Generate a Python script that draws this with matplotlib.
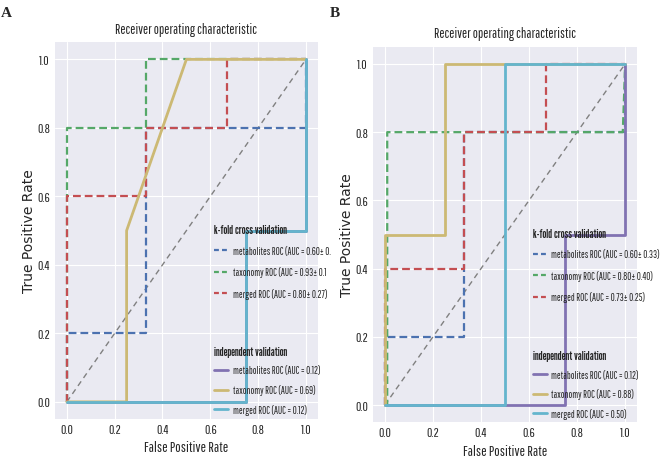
import matplotlib
matplotlib.use('Agg')
from matplotlib import pyplot as plt
from matplotlib import font_manager
from matplotlib.lines import Line2D
from matplotlib.transforms import Bbox, TransformedBbox

plt.style.use('seaborn-v0_8-darkgrid')

installed = {f.name for f in font_manager.fontManager.ttflist}


def pick(names):
    return [n for n in names if n in installed] + ['DejaVu Sans']


narrow = pick(['Pathway Gothic One', 'PT Sans Narrow'])
narrow_bold = pick(['League Gothic', 'PT Sans Narrow'])
plt.rcParams['font.family'] = narrow

#%% DATA

# panel A - k-fold cross validation (mean ROC)
a_met_fpr = [0, 0, 0.33, 0.33, 1, 1]
a_met_tpr = [0, 0.2, 0.2, 0.8, 0.8, 1.0]
a_tax_fpr = [0, 0, 0.33, 0.33, 1]
a_tax_tpr = [0, 0.8, 0.8, 1.0, 1.0]
a_mer_fpr = [0, 0, 0.33, 0.33, 0.67, 0.67, 1]
a_mer_tpr = [0, 0.6, 0.6, 0.8, 0.8, 1.0, 1.0]
# panel A - independent validation
a_imet_fpr = [0, 0.75, 0.75, 1, 1]
a_imet_tpr = [0, 0, 0.5, 0.5, 1.0]
a_itax_fpr = [0, 0.25, 0.25, 0.5, 1]
a_itax_tpr = [0, 0, 0.5, 1.0, 1.0]
a_imer_fpr = [0, 0.75, 0.75, 1, 1]
a_imer_tpr = [0, 0, 0.5, 0.5, 1.0]

# panel B - k-fold cross validation (mean ROC)
b_met_fpr = [0, 0, 0.33, 0.33, 1, 1]
b_met_tpr = [0, 0.2, 0.2, 0.8, 0.8, 1.0]
b_tax_fpr = [0, 0.01, 0.01, 0.99, 1]
b_tax_tpr = [0, 0, 0.8, 0.8, 1.0]
b_mer_fpr = [0, 0, 0.33, 0.33, 0.67, 0.67, 1]
b_mer_tpr = [0, 0.4, 0.4, 0.8, 0.8, 1.0, 1.0]
# panel B - independent validation
b_imet_fpr = [0, 0.75, 0.75, 1, 1]
b_imet_tpr = [0, 0, 0.5, 0.5, 1.0]
b_itax_fpr = [0, 0, 0.25, 0.25, 1]
b_itax_tpr = [0, 0.5, 0.5, 1.0, 1.0]
b_imer_fpr = [0, 0.5, 0.5, 1]
b_imer_tpr = [0, 0, 1.0, 1.0]

a_kfold_labels = ['metabolites ROC (AUC = 0.60\u00b1 0.',
                  'taxonomy ROC (AUC = 0.93\u00b1 0.1',
                  'merged ROC (AUC = 0.80\u00b1 0.27)']
a_indep_labels = ['metabolites ROC (AUC = 0.12)',
                  'taxonomy ROC (AUC = 0.69)',
                  'merged ROC (AUC = 0.12)']
b_kfold_labels = ['metabolites ROC (AUC = 0.60\u00b1 0.33)',
                  'taxonomy ROC (AUC = 0.80\u00b1 0.40)',
                  'merged ROC (AUC = 0.73\u00b1 0.25)']
b_indep_labels = ['metabolites ROC (AUC = 0.12)',
                  'taxonomy ROC (AUC = 0.88)',
                  'merged ROC (AUC = 0.50)']

ticks = [0.0, 0.2, 0.4, 0.6, 0.8, 1.0]
kfold_colors = ['#4C72B0', '#55A868', '#C44E52']
indep_colors = ['#8172B2', '#CCB974', '#64B5CD']

#%% FIGURE

fig = plt.figure(figsize=(6.61, 4.60), dpi=100)
axA = fig.add_axes([0.083, 0.087, 0.398, 0.819])
axB = fig.add_axes([0.564, 0.080, 0.400, 0.816])


def draw_panel(ax, kfold, indep, kfold_labels, indep_labels, leg_x, leg_y1, leg_y2, clip=None):
    ax.plot([0, 1], [0, 1], linestyle='--', color='grey', lw=1, dashes=(4, 3))
    for (f, t), c in zip(kfold, kfold_colors):
        ax.plot(f, t, linestyle='--', color=c, lw=1.6, dashes=(3.5, 1.8))
    for (f, t), c in zip(indep, indep_colors):
        ax.plot(f, t, linestyle='-', color=c, lw=2)
    ax.set_xlim(-0.05, 1.05)
    ax.set_ylim(-0.05, 1.05)
    ax.set_xticks(ticks)
    ax.set_yticks(ticks)
    ax.tick_params(labelsize=9.5, colors='#262626')
    ax.set_xlabel('False Positive Rate', fontsize=10.5, color='#262626')
    ax.set_ylabel('True Positive Rate', fontsize=10, color='#262626',
                  family='DejaVu Sans', labelpad=1)
    ax.set_title('Receiver operating characteristic', fontsize=10, color='#262626', pad=7)

    h1 = [Line2D([], [], linestyle='--', color=c, lw=1.6, dashes=(2.2, 1.4)) for c in kfold_colors]
    h2 = [Line2D([], [], linestyle='-', color=c, lw=2) for c in indep_colors]
    opts = dict(loc='upper left', bbox_transform=fig.transFigure, frameon=False,
                fontsize=7.2, borderpad=0, borderaxespad=0, handlelength=1.4,
                handletextpad=0.45, alignment='left',
                title_fontproperties={'family': narrow_bold, 'size': 9})
    leg1 = ax.legend(h1, kfold_labels, title='k-fold cross validation',
                     bbox_to_anchor=(leg_x, leg_y1), labelspacing=1.07, **opts)
    ax.add_artist(leg1)
    leg2 = ax.legend(h2, indep_labels, title='independent validation',
                     bbox_to_anchor=(leg_x, leg_y2), labelspacing=0.87, **opts)
    if clip is not None:
        for leg in (leg1, leg2):
            for t in leg.get_texts():
                t.set_clip_box(clip)
                t.set_clip_on(True)


clipA = TransformedBbox(Bbox([[0, 0], [0.5, 1]]), fig.transFigure)

draw_panel(axA,
           [(a_met_fpr, a_met_tpr), (a_tax_fpr, a_tax_tpr), (a_mer_fpr, a_mer_tpr)],
           [(a_imet_fpr, a_imet_tpr), (a_itax_fpr, a_itax_tpr), (a_imer_fpr, a_imer_tpr)],
           a_kfold_labels, a_indep_labels, 0.324, 0.511, 0.246, clip=clipA)
draw_panel(axB,
           [(b_met_fpr, b_met_tpr), (b_tax_fpr, b_tax_tpr), (b_mer_fpr, b_mer_tpr)],
           [(b_imet_fpr, b_imet_tpr), (b_itax_fpr, b_itax_tpr), (b_imer_fpr, b_imer_tpr)],
           b_kfold_labels, b_indep_labels, 0.806, 0.503, 0.237)

fig.text(0.002, 0.985, 'A', family='Liberation Serif', fontweight='bold', fontsize=11, va='top')
fig.text(0.499, 0.985, 'B', family='Liberation Serif', fontweight='bold', fontsize=11, va='top')

fig.savefig('out.png', dpi=100, facecolor='white')
